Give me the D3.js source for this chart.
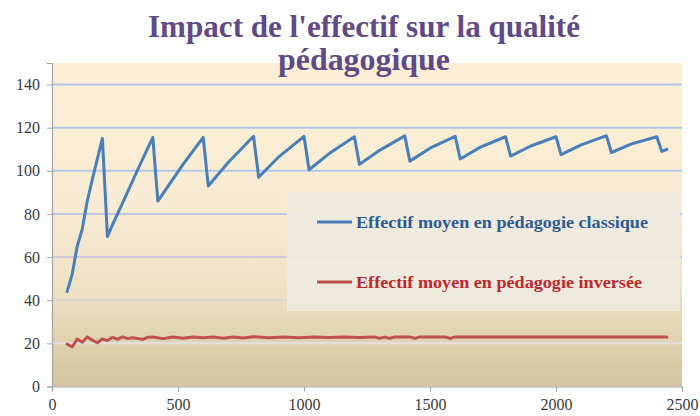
<!DOCTYPE html>
<html>
<head>
<meta charset="utf-8">
<script src="https://cdn.jsdelivr.net/npm/d3@7"></script>
<style>
  html, body { margin: 0; padding: 0; background: #ffffff; }
  svg { display: block; }
  .axis text { font-family: "Liberation Serif", "Times New Roman", serif !important; font-size: 16px; fill: #3a3a3a; }
</style>
</head>
<body>
<svg id="chart" width="700" height="416"></svg>
<script>
// ---- Data ----
const titleLines = ["Impact de l'effectif sur la qualité", "pédagogique"];
const seriesNames = ["Effectif moyen en pédagogie classique", "Effectif moyen en pédagogie inversée"];

const xTicks = [0, 500, 1000, 1500, 2000, 2500];
const yTicks = [0, 20, 40, 60, 80, 100, 120, 140];

const classiqueX = [60, 80, 100, 120, 140, 160, 180, 200,
  220, 240, 260, 280, 340, 400,
  420, 520, 600,
  620, 700, 800,
  820, 900, 1000,
  1020, 1100, 1200,
  1220, 1300, 1400,
  1420, 1500, 1600,
  1620, 1700, 1800,
  1820, 1900, 2000,
  2020, 2100, 2200,
  2220, 2300, 2400,
  2420, 2440];
const classiqueY = [44, 52, 65, 73, 86, 96, 105.5, 115,
  69.5, 75, 80, 85, 100.5, 115.5,
  86, 103, 115.5,
  93, 104, 116,
  97, 106.5, 116,
  100.5, 108, 115.8,
  103, 109.5, 116.2,
  104.5, 110.5, 116,
  105.5, 111, 115.8,
  106.8, 111.5, 115.8,
  107.5, 112, 116.3,
  108.5, 112.5, 115.8,
  109, 110];

const inverseeX = [60, 80, 100, 120, 140, 160, 180, 200, 220, 240, 260, 280, 300, 320, 340, 360, 380, 400,
  440, 480, 520, 560, 600, 640, 680, 720, 760, 800, 860, 920, 980, 1040, 1100, 1160, 1220,
  1280, 1300, 1320, 1340, 1360, 1420, 1440, 1460, 1560, 1580, 1600, 2440];
const inverseeY = [19.7, 18.3, 22, 20.5, 23, 21.5, 20.3, 22, 21.3, 22.8, 21.9, 23, 22.2, 22.6, 22.3, 21.8, 22.8, 23,
  22.2, 23, 22.4, 23, 22.6, 22.9, 22.4, 23, 22.5, 23.1, 22.6, 23, 22.6, 23, 22.7, 23, 22.7,
  23, 22.3, 22.9, 22.3, 23, 23, 22.3, 23, 23, 22.3, 23, 23];

// ---- Layout ----
const svg = d3.select("#chart");
const plot = { left: 52, right: 682, top: 63, bottom: 386.5 };

const x = d3.scaleLinear().domain([0, 2500]).range([plot.left, plot.right]);
const y = d3.scaleLinear().domain([0, 150]).range([plot.bottom, plot.top]);

const defs = svg.append("defs");
const grad = defs.append("linearGradient").attr("id", "bg").attr("x1", 0).attr("y1", 0).attr("x2", 0).attr("y2", 1);
grad.append("stop").attr("offset", "0%").attr("stop-color", "#fcefd6");
grad.append("stop").attr("offset", "45%").attr("stop-color", "#f7ecd3");
grad.append("stop").attr("offset", "70%").attr("stop-color", "#ede2c4");
grad.append("stop").attr("offset", "100%").attr("stop-color", "#d4c49f");

svg.append("rect")
  .attr("x", plot.left).attr("y", plot.top)
  .attr("width", plot.right - plot.left).attr("height", plot.bottom - plot.top)
  .attr("fill", "url(#bg)");

// gridlines
const gridColor = d3.scaleLinear().domain([20, 40, 60, 90, 140])
  .range(["#e4e1dd", "#dad6d4", "#cfc6da", "#b8c7e6", "#b3c5e8"]);
svg.append("g").selectAll("line")
  .data(yTicks.filter(d => d > 0))
  .join("line")
  .attr("x1", plot.left).attr("x2", plot.right)
  .attr("y1", d => y(d)).attr("y2", d => y(d))
  .attr("stroke", d => gridColor(d))
  .attr("stroke-width", 2);

// axes
const yAxis = d3.axisLeft(y).tickValues(yTicks).tickFormat(d3.format("d")).tickSize(5).tickPadding(7);
const gy = svg.append("g").attr("class", "axis").attr("transform", `translate(${plot.left},0)`).call(yAxis);
const xAxis = d3.axisBottom(x).tickValues(xTicks).tickFormat(d3.format("d")).tickSize(5).tickPadding(7);
const gx = svg.append("g").attr("class", "axis").attr("transform", `translate(0,${plot.bottom})`).call(xAxis);
[gx, gy].forEach(g => {
  g.attr("font-family", "Liberation Serif").attr("font-size", 16);
  g.select(".domain").attr("stroke", "#a6a6a6").attr("stroke-width", 1.2);
  g.selectAll(".tick line").attr("stroke", "#a6a6a6");
  g.selectAll(".tick text").attr("fill", "#3a3a3a");
});

// lines
const line = d3.line().x(d => x(d[0])).y(d => y(d[1]));
const classique = classiqueX.map((v, i) => [v, classiqueY[i]]);
const inversee = inverseeX.map((v, i) => [v, inverseeY[i]]);

svg.append("path").datum(inversee)
  .attr("d", line).attr("fill", "none")
  .attr("stroke", "#c0504d").attr("stroke-width", 3)
  .attr("stroke-linejoin", "round").attr("stroke-linecap", "round");
svg.append("path").datum(classique)
  .attr("d", line).attr("fill", "none")
  .attr("stroke", "#4a7ebb").attr("stroke-width", 3)
  .attr("stroke-linejoin", "round").attr("stroke-linecap", "round");

// legend
const lg = svg.append("g");
lg.append("rect")
  .attr("x", 287).attr("y", 192).attr("width", 393).attr("height", 119)
  .attr("fill", "#edeadf").attr("fill-opacity", 0.9);
const legendItems = [
  { name: seriesNames[0], stroke: "#4a7ebb", text: "#2f5b92", y: 222, len: 292 },
  { name: seriesNames[1], stroke: "#c0504d", text: "#c0272d", y: 282, len: 286 }
];
legendItems.forEach(it => {
  lg.append("line").attr("x1", 317).attr("x2", 352).attr("y1", it.y).attr("y2", it.y)
    .attr("stroke", it.stroke).attr("stroke-width", 3);
  lg.append("text").attr("x", 356).attr("y", it.y).attr("dy", "0.35em")
    .attr("fill", it.text)
    .attr("textLength", it.len).attr("lengthAdjust", "spacingAndGlyphs")
    .style("font-family", "'Liberation Serif', 'Times New Roman', serif")
    .style("font-weight", "bold").style("font-size", "17px")
    .text(it.name);
});

// title
const titleLens = [432, 172];
const titleY = [37, 70];
titleLines.forEach((t, i) => {
  svg.append("text").attr("x", 364).attr("y", titleY[i])
    .attr("text-anchor", "middle")
    .attr("fill", "#5f4a87")
    .attr("textLength", titleLens[i]).attr("lengthAdjust", "spacingAndGlyphs")
    .style("font-family", "'Liberation Serif', 'Times New Roman', serif")
    .style("font-weight", "bold").style("font-size", "31px")
    .text(t);
});
</script>
</body>
</html>
